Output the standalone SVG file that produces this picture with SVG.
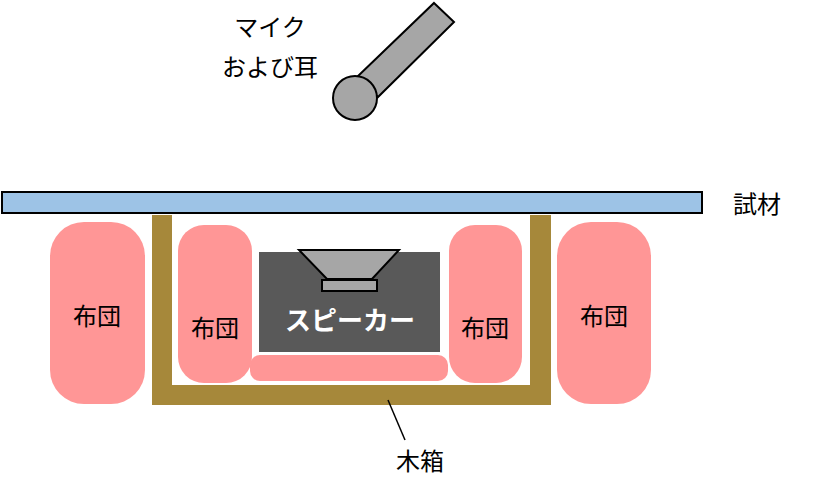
<svg xmlns="http://www.w3.org/2000/svg" width="820" height="492" viewBox="0 0 820 492">
<style>
text{font-family:"Liberation Sans","Noto Sans CJK JP",sans-serif;font-size:24px;fill:#000;text-anchor:middle}
.f{fill:#ff9696}
.g{fill:#a6a6a6;stroke:#000;stroke-width:2}
</style>
<rect width="820" height="492" fill="#fff"/>
<g id="mic">
<polygon class="g" points="434,3 454,22 378,97 357,77"/>
<circle class="g" cx="355" cy="98" r="22"/>
<text x="270" y="36">マイク</text>
<text x="270" y="76">および耳</text>
</g>
<g id="board">
<rect x="2" y="192" width="700" height="21" fill="#9dc3e6" stroke="#000" stroke-width="2"/>
<text x="757" y="213">試材</text>
</g>
<g id="box">
<path d="M152,215H172V385H530V215H551V405H152Z" fill="#a6883a"/>
</g>
<g id="futon1"><rect class="f" x="50" y="222" width="95" height="182" rx="34"/><text x="97" y="325">布団</text></g>
<g id="futon2"><rect class="f" x="178" y="225" width="74" height="158" rx="26"/><text x="215" y="337">布団</text></g>
<g id="futon3"><rect class="f" x="449" y="225" width="73" height="158" rx="26"/><text x="485" y="337">布団</text></g>
<g id="futon4"><rect class="f" x="557" y="222" width="94" height="182" rx="34"/><text x="604" y="325">布団</text></g>
<g id="futon5"><rect class="f" x="250" y="355" width="198" height="26" rx="10"/></g>
<g id="speaker">
<rect x="259" y="252" width="181" height="100" fill="#595959"/>
<polygon class="g" points="299,250 399,250 372,279 327,279"/>
<rect class="g" x="322" y="280" width="55" height="11"/>
<text x="350" y="330" style="fill:#fff;font-weight:bold;font-size:26px">スピーカー</text>
</g>
<g id="connectors">
<line x1="388" y1="400" x2="405" y2="440" stroke="#000" stroke-width="1.5"/>
</g>
<g id="label"><text x="420" y="470">木箱</text></g>
</svg>
